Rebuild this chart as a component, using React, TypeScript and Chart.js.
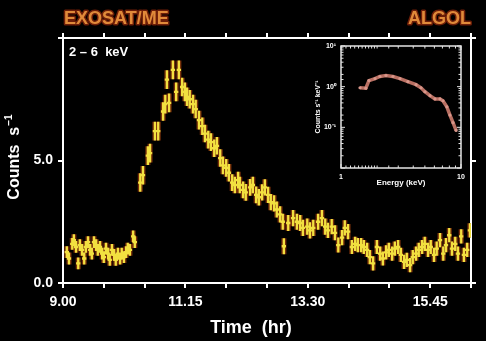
import React, { useEffect, useRef } from 'react';
import { Chart, registerables } from 'chart.js';

Chart.register(...registerables);

const FONT = '"Liberation Sans", Arial, Helvetica, sans-serif';

// ---------- Light curve (EXOSAT/ME, 2-6 keV) ----------
const timeHr = [
  9.07, 9.11, 9.17, 9.20, 9.24, 9.28, 9.31, 9.35, 9.39, 9.42,
  9.46, 9.50, 9.53, 9.57, 9.61, 9.64, 9.68, 9.72, 9.75, 9.79,
  9.83, 9.86, 9.90, 9.94, 9.97, 10.01, 10.05, 10.08, 10.12, 10.16,
  10.19, 10.23, 10.29, 10.32,
  10.42, 10.47, 10.56, 10.60, 10.69, 10.75, 10.84, 10.88, 10.91, 10.95,
  11.02, 11.08, 11.13, 11.19, 11.24, 11.28, 11.33, 11.39, 11.44, 11.50,
  11.56, 11.61, 11.67, 11.72, 11.78, 11.83, 11.89, 11.94, 12.00, 12.05,
  12.11, 12.16, 12.22, 12.25, 12.31, 12.36, 12.44, 12.49, 12.55, 12.60,
  12.66, 12.71, 12.77, 12.82, 12.88, 12.93, 12.99, 13.04, 13.06, 13.14,
  13.23, 13.30, 13.36, 13.41, 13.49, 13.54, 13.60, 13.69, 13.76, 13.82,
  13.87, 13.94, 14.00, 14.06, 14.13, 14.18, 14.24, 14.31, 14.37, 14.42,
  14.48, 14.53, 14.59, 14.64, 14.70, 14.77, 14.83, 14.88, 14.94, 14.99,
  15.05, 15.10, 15.16, 15.21, 15.27, 15.32, 15.38, 15.43, 15.49, 15.54,
  15.60, 15.65, 15.71, 15.76, 15.82, 15.87, 15.93, 15.99, 16.04, 16.10,
  16.15, 16.21, 16.26, 16.32, 16.37, 16.43, 16.48,
];

const counts = [
  1.26, 1.0, 1.6, 1.75, 1.47, 0.8, 1.55, 1.35, 1.0, 1.47,
  1.67, 1.35, 1.2, 1.67, 1.55, 1.35, 1.47, 1.2, 1.06, 1.4,
  1.2, 0.94, 1.35, 1.15, 0.94, 1.2, 1.0, 1.2, 1.06, 1.26,
  1.4, 1.35, 1.9, 1.67,
  4.1, 4.4, 5.2, 5.3, 6.2, 6.2, 7.0, 7.3, 8.3, 7.35,
  8.7, 7.8, 8.7, 8.0, 7.8, 7.6, 7.5, 7.3, 7.1, 6.65,
  6.4, 6.1, 5.85, 5.75, 5.5, 5.6, 5.1, 4.8, 4.7, 4.5,
  4.1, 4.0, 4.2, 4.0, 3.8, 3.7, 3.9, 4.0, 3.6, 3.5,
  3.7, 3.9, 3.6, 3.3, 3.25, 3.0, 2.8, 2.5, 1.5, 2.45,
  2.65, 2.5, 2.45, 2.25, 2.3, 2.15, 2.25, 2.5, 2.65, 2.3,
  2.15, 2.3, 2.05, 1.55, 1.85, 2.25, 2.1, 1.47, 1.6, 1.55,
  1.55, 1.47, 1.35, 1.06, 0.8, 1.47, 1.2, 1.0, 1.25, 1.35,
  1.2, 1.4, 1.47, 1.15, 0.86, 0.94, 0.73, 1.06, 1.2, 1.35,
  1.47, 1.6, 1.35, 1.47, 1.15, 1.4, 1.75, 1.2, 1.55, 1.95,
  1.4, 1.6, 1.2, 1.9, 1.15, 1.35, 2.15,
];

const countErr = [
  0.24, 0.24, 0.24, 0.24, 0.24, 0.24, 0.24, 0.24, 0.24, 0.24,
  0.24, 0.24, 0.24, 0.24, 0.24, 0.24, 0.24, 0.24, 0.24, 0.24,
  0.24, 0.24, 0.24, 0.24, 0.24, 0.24, 0.24, 0.24, 0.24, 0.24,
  0.24, 0.24, 0.24, 0.24,
  0.38, 0.38, 0.38, 0.38, 0.38, 0.38, 0.38, 0.38, 0.38, 0.38,
  0.38, 0.38, 0.38, 0.38, 0.38, 0.38, 0.38, 0.38, 0.38, 0.38,
  0.36, 0.36, 0.36, 0.36, 0.36, 0.36, 0.36, 0.36, 0.36, 0.36,
  0.34, 0.34, 0.34, 0.34, 0.34, 0.34, 0.34, 0.34, 0.34, 0.34,
  0.33, 0.33, 0.33, 0.33, 0.33, 0.33, 0.33, 0.33, 0.33, 0.33,
  0.33, 0.33, 0.33, 0.33, 0.33, 0.33, 0.33, 0.33, 0.33, 0.33,
  0.31, 0.31, 0.31, 0.31, 0.31, 0.31, 0.31, 0.29, 0.29, 0.29,
  0.29, 0.29, 0.29, 0.29, 0.29, 0.29, 0.29, 0.29, 0.29, 0.29,
  0.29, 0.29, 0.29, 0.29, 0.29, 0.29, 0.29, 0.29, 0.29, 0.29,
  0.29, 0.29, 0.29, 0.29, 0.29, 0.29, 0.29, 0.29, 0.29, 0.29,
  0.29, 0.29, 0.29, 0.29, 0.29, 0.29, 0.29,
];

const timeHalfBin = 0.04;

const xTickHours = [9, 11.25, 13.5, 15.75];
const xTickLabels = ['9.00', '11.15', '13.30', '15.45'];
const yTickValues = [0, 5];
const yTickLabels = ['0.0', '5.0'];

// ---------- Inset spectrum ----------
const energyKeV = [
  1.44, 1.61, 1.71, 1.92, 2.11, 2.37, 2.71, 3.10, 3.61, 4.22,
  4.64, 5.01, 5.52, 6.07, 6.68, 7.07, 7.62, 8.09, 8.58, 9.10,
];
const specFlux = [
  0.94, 0.92, 1.41, 1.58, 1.78, 1.88, 1.78, 1.58, 1.33, 1.12,
  0.94, 0.75, 0.60, 0.50, 0.50, 0.45, 0.32, 0.20, 0.13, 0.084,
];
const insetYTickValues = [10, 1, 0.1];
const insetYTickLabels = ['10¹', '10⁰', '10⁻¹'];
const insetXTickValues = [1, 10];
const insetXTickLabels = ['1', '10'];

function lookup(vals: number[], labels: string[], v: number): string {
  for (let i = 0; i < vals.length; i++) {
    if (Math.abs(vals[i] - v) <= 1e-6 * Math.max(1, Math.abs(vals[i]))) return labels[i];
  }
  return '';
}

const errorBarPlugin = {
  id: 'errorBars',
  afterDatasetsDraw(chart: any) {
    const { ctx, chartArea, scales } = chart;
    const x = scales.x;
    const y = scales.y;
    ctx.save();
    ctx.beginPath();
    ctx.rect(chartArea.left, chartArea.top, chartArea.width, chartArea.height);
    ctx.clip();
    const path = () => {
      ctx.beginPath();
      for (let i = 0; i < timeHr.length; i++) {
        const px = x.getPixelForValue(timeHr[i]);
        const py = y.getPixelForValue(counts[i]);
        ctx.moveTo(px, y.getPixelForValue(counts[i] + countErr[i]));
        ctx.lineTo(px, y.getPixelForValue(counts[i] - countErr[i]));
        ctx.moveTo(x.getPixelForValue(timeHr[i] - timeHalfBin), py);
        ctx.lineTo(x.getPixelForValue(timeHr[i] + timeHalfBin), py);
      }
    };
    path();
    ctx.strokeStyle = 'rgba(140,55,12,0.85)';
    ctx.lineWidth = 5;
    ctx.stroke();
    path();
    ctx.strokeStyle = '#f2e040';
    ctx.lineWidth = 2.3;
    ctx.stroke();
    ctx.restore();
  },
};

const textPlugin = {
  id: 'mainTexts',
  afterDraw(chart: any) {
    const { ctx } = chart;
    ctx.save();
    // Orange titles
    ctx.font = `bold 18px ${FONT}`;
    ctx.textBaseline = 'alphabetic';
    ctx.lineJoin = 'round';
    ctx.lineWidth = 3;
    ctx.strokeStyle = '#6e1e08';
    ctx.fillStyle = '#e08a3a';
    ctx.textAlign = 'left';
    ctx.strokeText('EXOSAT/ME', 64, 24);
    ctx.fillText('EXOSAT/ME', 64, 24);
    ctx.textAlign = 'right';
    ctx.strokeText('ALGOL', 471, 24);
    ctx.fillText('ALGOL', 471, 24);

    // Band label
    ctx.fillStyle = '#ffffff';
    ctx.textAlign = 'left';
    ctx.font = `bold 13px ${FONT}`;
    ctx.fillText('2 – 6  keV', 69, 56);

    // X title
    ctx.font = `bold 18px ${FONT}`;
    ctx.textAlign = 'center';
    ctx.fillText('Time  (hr)', 251, 333);

    // Y title with superscript
    ctx.translate(19, 157);
    ctx.rotate(-Math.PI / 2);
    ctx.textAlign = 'left';
    ctx.font = `bold 16px ${FONT}`;
    const main = 'Counts  s';
    const wMain = ctx.measureText(main).width;
    ctx.font = `bold 10px ${FONT}`;
    const sup = '−1';
    const wSup = ctx.measureText(sup).width;
    const start = -(wMain + wSup + 1) / 2;
    ctx.font = `bold 16px ${FONT}`;
    ctx.fillText(main, start, 0);
    ctx.font = `bold 10px ${FONT}`;
    ctx.fillText(sup, start + wMain + 1, -7);
    ctx.restore();
  },
};

const insetFramePlugin = {
  id: 'insetFrame',
  afterDraw(chart: any) {
    const { ctx, chartArea: a, scales } = chart;
    const x = scales.x;
    const y = scales.y;
    const isDecade = (v: number) => Math.abs(Math.log10(v) - Math.round(Math.log10(v))) < 1e-6;
    ctx.save();
    ctx.strokeStyle = '#e4e4e4';
    ctx.lineWidth = 1.5;
    ctx.strokeRect(a.left, a.top, a.right - a.left, a.bottom - a.top);
    ctx.lineWidth = 1;
    ctx.beginPath();
    x.ticks.forEach((t: any) => {
      const px = x.getPixelForValue(t.value);
      const len = isDecade(t.value) ? 4 : 2.5;
      ctx.moveTo(px, a.bottom);
      ctx.lineTo(px, a.bottom - len);
      ctx.moveTo(px, a.top);
      ctx.lineTo(px, a.top + len);
    });
    y.ticks.forEach((t: any) => {
      const py = y.getPixelForValue(t.value);
      const len = isDecade(t.value) ? 4 : 2.5;
      ctx.moveTo(a.left, py);
      ctx.lineTo(a.left + len, py);
      ctx.moveTo(a.right, py);
      ctx.lineTo(a.right - len, py);
    });
    ctx.stroke();
    ctx.restore();
  },
};

const axisGrid = {
  display: true,
  drawOnChartArea: false,
  drawTicks: true,
  tickLength: 5,
  color: '#ffffff',
  lineWidth: 2,
};
const axisBorder = { display: true, color: '#ffffff', width: 2 };

export default function App() {
  const mainRef = useRef<HTMLCanvasElement | null>(null);
  const insetRef = useRef<HTMLCanvasElement | null>(null);

  useEffect(() => {
    if (!mainRef.current || !insetRef.current) return;

    const main = new Chart(mainRef.current, {
      type: 'scatter',
      data: {
        datasets: [
          {
            data: timeHr.map((t, i) => ({ x: t, y: counts[i] })),
            pointRadius: 0,
            showLine: false,
            xAxisID: 'x',
            yAxisID: 'y',
          },
        ],
      },
      options: {
        animation: false,
        responsive: false,
        maintainAspectRatio: false,
        layout: { padding: 0 },
        plugins: { legend: { display: false }, tooltip: { enabled: false } },
        scales: {
          x: {
            type: 'linear',
            position: 'bottom',
            min: 9,
            max: 16.5,
            grid: axisGrid,
            border: axisBorder,
            ticks: {
              stepSize: 0.75,
              autoSkip: false,
              maxRotation: 0,
              padding: 6,
              color: '#ffffff',
              font: { family: FONT, size: 14, weight: 'bold' },
              callback: (v: any) => lookup(xTickHours, xTickLabels, Number(v)),
            },
            afterFit: (s: any) => { s.height = 58; },
          },
          x2: {
            type: 'linear',
            position: 'top',
            min: 9,
            max: 16.5,
            grid: axisGrid,
            border: axisBorder,
            ticks: { stepSize: 0.75, display: false },
            afterFit: (s: any) => { s.height = 38; },
          },
          y: {
            type: 'linear',
            position: 'left',
            min: 0,
            max: 10,
            grid: axisGrid,
            border: axisBorder,
            ticks: {
              stepSize: 5,
              padding: 5,
              color: '#ffffff',
              font: { family: FONT, size: 14, weight: 'bold' },
              callback: (v: any) => lookup(yTickValues, yTickLabels, Number(v)),
            },
            afterFit: (s: any) => { s.width = 63; },
          },
          y2: {
            type: 'linear',
            position: 'right',
            min: 0,
            max: 10,
            grid: axisGrid,
            border: axisBorder,
            ticks: { stepSize: 5, display: false },
            afterFit: (s: any) => { s.width = 15; },
          },
        },
      },
      plugins: [errorBarPlugin, textPlugin],
    } as any);

    const inset = new Chart(insetRef.current, {
      type: 'scatter',
      data: {
        datasets: [
          {
            data: energyKeV.map((e, i) => ({ x: e, y: specFlux[i] })),
            showLine: true,
            borderColor: '#b86f62',
            borderWidth: 3.5,
            pointRadius: 1.6,
            pointBackgroundColor: '#d8968a',
            pointBorderWidth: 0,
            tension: 0,
          },
        ],
      },
      options: {
        animation: false,
        responsive: false,
        maintainAspectRatio: false,
        layout: { padding: { top: 10, right: 15, left: 0, bottom: 0 } },
        plugins: { legend: { display: false }, tooltip: { enabled: false } },
        scales: {
          x: {
            type: 'logarithmic',
            min: 1,
            max: 10,
            grid: { display: false, drawTicks: false },
            border: { display: false },
            ticks: {
              autoSkip: false,
              maxRotation: 0,
              padding: 5,
              color: '#ffffff',
              font: { family: FONT, size: 7, weight: 'bold' },
              callback: (v: any) => lookup(insetXTickValues, insetXTickLabels, Number(v)),
            },
            title: {
              display: true,
              text: 'Energy (keV)',
              color: '#ffffff',
              font: { family: FONT, size: 8, weight: 'bold' },
              padding: { top: 0, bottom: 8 },
            },
            afterFit: (s: any) => { s.height = 28; },
          },
          y: {
            type: 'logarithmic',
            min: 0.01,
            max: 10,
            grid: { display: false, drawTicks: false },
            border: { display: false },
            ticks: {
              autoSkip: false,
              padding: 5,
              color: '#ffffff',
              font: { family: FONT, size: 7, weight: 'bold' },
              callback: (v: any) => lookup(insetYTickValues, insetYTickLabels, Number(v)),
            },
            title: {
              display: true,
              text: 'Counts s⁻¹ keV⁻¹',
              color: '#ffffff',
              font: { family: FONT, size: 7, weight: 'bold' },
              padding: { top: 18, bottom: 0 },
            },
            afterFit: (s: any) => { s.width = 45; },
          },
        },
      },
      plugins: [insetFramePlugin],
    } as any);

    return () => {
      main.destroy();
      inset.destroy();
    };
  }, []);

  return (
    <div
      style={{
        position: 'fixed',
        left: 0,
        top: 0,
        width: 486,
        height: 341,
        background: '#000000',
        overflow: 'hidden',
      }}
    >
      <canvas
        ref={mainRef}
        width={486}
        height={341}
        style={{ position: 'absolute', left: 0, top: 0, width: 486, height: 341 }}
      />
      <canvas
        ref={insetRef}
        width={180}
        height={160}
        style={{ position: 'absolute', left: 296, top: 36, width: 180, height: 160 }}
      />
    </div>
  );
}
